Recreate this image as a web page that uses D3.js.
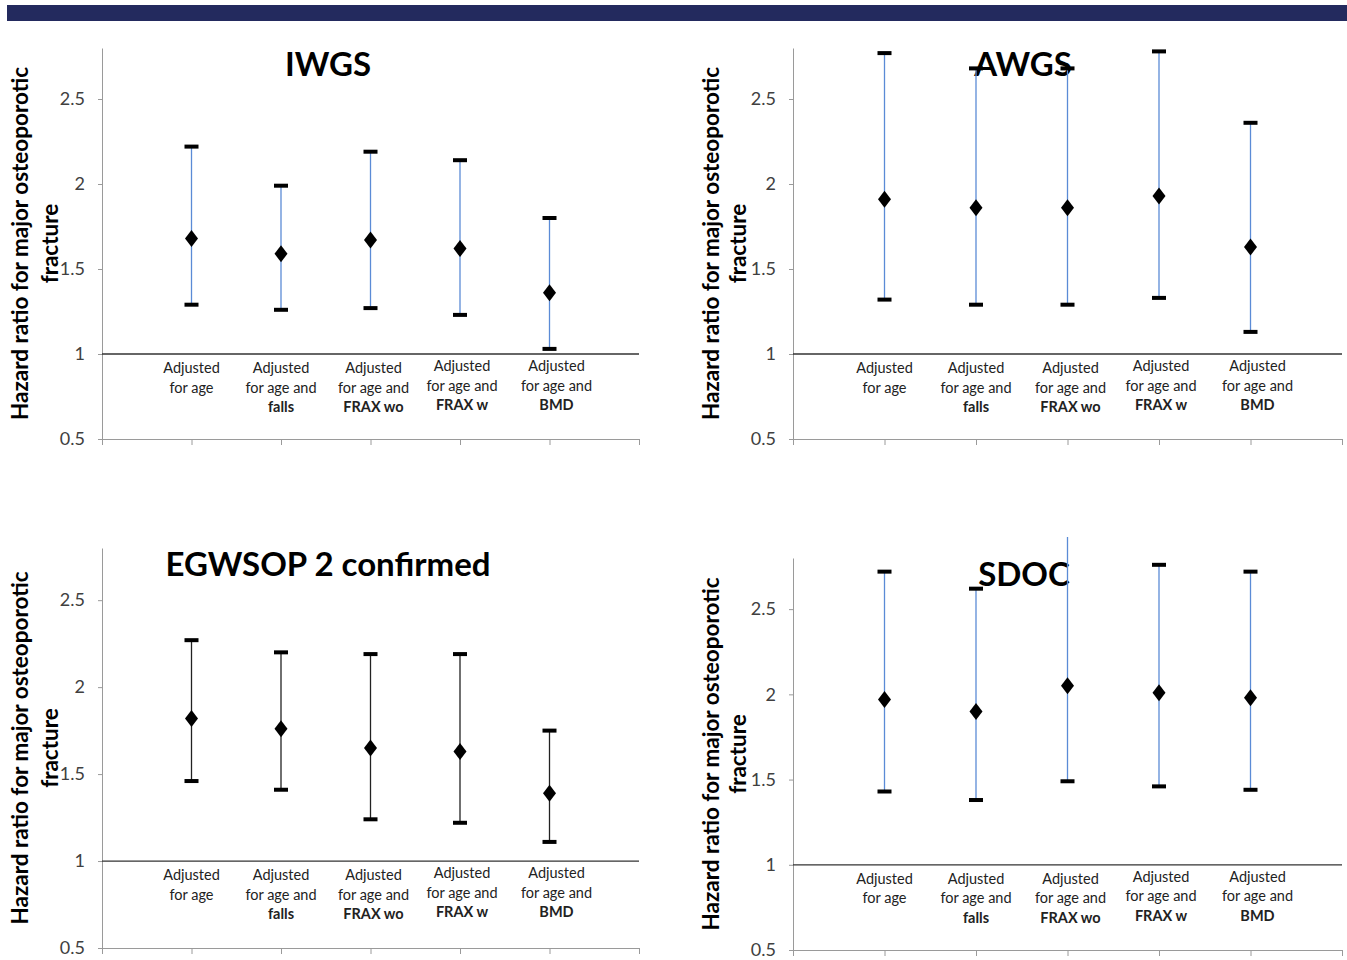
<!DOCTYPE html>
<html>
<head>
<meta charset="utf-8">
<script src="https://cdn.jsdelivr.net/npm/d3@7"></script>
<style>
  body { margin: 0; background: #fff; }
  svg { display: block; font-family: Lato, "Open Sans", sans-serif; }
</style>
</head>
<body>
<svg id="chart" width="1347" height="960"></svg>
<script>
// hazard ratios (point, lower CI, upper CI) per definition, 5 adjustment models each
const titles = ["IWGS", "AWGS", "EGWSOP 2 confirmed", "SDOC"];
const categories = [
  ["Adjusted", "for age"],
  ["Adjusted", "for age and", "falls"],
  ["Adjusted", "for age and", "FRAX wo"],
  ["Adjusted", "for age and", "FRAX w"],
  ["Adjusted", "for age and", "BMD"]
];
const yTicks = [0.5, 1, 1.5, 2, 2.5];

const iwgsHR   = [1.68, 1.59, 1.67, 1.62, 1.36];
const iwgsLow  = [1.29, 1.26, 1.27, 1.23, 1.03];
const iwgsHigh = [2.22, 1.99, 2.19, 2.14, 1.80];

const awgsHR   = [1.91, 1.86, 1.86, 1.93, 1.63];
const awgsLow  = [1.32, 1.29, 1.29, 1.33, 1.13];
const awgsHigh = [2.77, 2.68, 2.68, 2.78, 2.36];

const ewgsopHR   = [1.82, 1.76, 1.65, 1.63, 1.39];
const ewgsopLow  = [1.46, 1.41, 1.24, 1.22, 1.11];
const ewgsopHigh = [2.27, 2.20, 2.19, 2.19, 1.75];

const sdocHR   = [1.97, 1.90, 2.05, 2.01, 1.98];
const sdocLow  = [1.43, 1.38, 1.49, 1.46, 1.44];
const sdocHigh = [2.72, 2.62, 2.98, 2.76, 2.72];

const series = [
  {hr: iwgsHR,   low: iwgsLow,   high: iwgsHigh},
  {hr: awgsHR,   low: awgsLow,   high: awgsHigh},
  {hr: ewgsopHR, low: ewgsopLow, high: ewgsopHigh},
  {hr: sdocHR,   low: sdocLow,   high: sdocHigh}
];

// panel layout (pixels)
const panels = [
  {x0: 102, x1: 639,  bottom: 439, top: 48,  titleX: 328,  barColor: "#5b8bd6"},
  {x0: 793, x1: 1342, bottom: 439, top: 48,  titleX: 1023, barColor: "#5b8bd6"},
  {x0: 102, x1: 639,  bottom: 948, top: 548, titleX: 328,  barColor: "#222"},
  {x0: 793, x1: 1342, bottom: 950, top: 558, titleX: 1024, barColor: "#5b8bd6"}
];
const labelShift = [0, 0, 3, 2, 7];

const svg = d3.select("#chart");

svg.append("rect")
  .attr("x", 7).attr("y", 5)
  .attr("width", 1340).attr("height", 16)
  .attr("fill", "#232a5e");

panels.forEach((p, k) => {
  const s = series[k];
  const x = d3.scaleLinear().domain([0, 6]).range([p.x0, p.x1]);
  const y = d3.scaleLinear().domain([0.5, 2.8]).range([p.bottom, p.top]);
  const g = svg.append("g");

  // y axis
  const ya = g.append("g")
    .attr("transform", `translate(${p.x0},0)`)
    .call(d3.axisLeft(y).tickValues(yTicks).tickFormat(d3.format("")).tickSize(4).tickSizeOuter(0).tickPadding(13));
  ya.select(".domain").attr("stroke", "#9a9a9a");
  ya.selectAll(".tick line").attr("stroke", "#9a9a9a");
  ya.selectAll(".tick text")
    .attr("fill", "#404040")
    .style("font-size", "18px")
    .style("font-family", "Lato, sans-serif");

  // x axis
  const xa = g.append("g")
    .attr("transform", `translate(0,${p.bottom})`)
    .call(d3.axisBottom(x).tickValues(d3.range(0, 7)).tickFormat("").tickSize(6).tickSizeOuter(0));
  xa.select(".domain").attr("stroke", "#9a9a9a");
  xa.selectAll(".tick line").attr("stroke", "#9a9a9a");

  // reference line at HR = 1
  g.append("line")
    .attr("x1", p.x0).attr("x2", p.x1)
    .attr("y1", y(1)).attr("y2", y(1))
    .attr("stroke", "#333").attr("stroke-width", 1.3);

  // y title
  const cy = (p.top + p.bottom) / 2;
  g.append("text")
    .attr("transform", `translate(${p.x0 - 82},${cy}) rotate(-90)`)
    .attr("text-anchor", "middle")
    .attr("dy", "0.35em")
    .style("font-size", "22.5px").style("font-weight", 700)
    .text("Hazard ratio for major osteoporotic");
  g.append("text")
    .attr("transform", `translate(${p.x0 - (k % 2 ? 55 : 52)},${cy}) rotate(-90)`)
    .attr("text-anchor", "middle")
    .attr("dy", "0.35em")
    .style("font-size", "22.5px").style("font-weight", 700)
    .text("fracture");

  // title
  g.append("text")
    .attr("x", p.titleX).attr("y", p.top + 28)
    .attr("text-anchor", "middle")
    .style("font-size", "33px").style("font-weight", 700)
    .text(titles[k]);

  // category labels
  categories.forEach((lines, i) => {
    const t = g.append("text")
      .attr("text-anchor", "middle")
      .attr("fill", "#222")
      .style("font-size", "14.5px");
    lines.forEach((ln, j) => {
      t.append("tspan")
        .attr("x", x(i + 1) + labelShift[i])
        .attr("y", y(1) + 19 + j * 19.5 - (i > 2 ? 2 : 0))
        .style("font-weight", j === 2 ? 700 : 400)
        .text(ln);
    });
  });

  // error bars, clipped just above the plot
  const clipId = "clip" + k;
  g.append("clipPath").attr("id", clipId)
    .append("rect")
      .attr("x", p.x0).attr("y", p.top - 21)
      .attr("width", p.x1 - p.x0).attr("height", p.bottom - p.top + 21);
  const bars = g.append("g").attr("clip-path", `url(#${clipId})`);
  const idx = d3.range(s.hr.length);

  bars.selectAll(".bar").data(idx).join("line")
    .attr("x1", i => x(i + 1)).attr("x2", i => x(i + 1))
    .attr("y1", i => y(s.low[i])).attr("y2", i => y(s.high[i]))
    .attr("stroke", p.barColor).attr("stroke-width", 1.3);

  bars.selectAll(".cap").data(idx.flatMap(i => [[i, s.low[i]], [i, s.high[i]]])).join("rect")
    .attr("x", d => x(d[0] + 1) - 7).attr("y", d => y(d[1]) - 2)
    .attr("width", 14).attr("height", 4)
    .attr("fill", "#000");

  bars.selectAll(".pt").data(idx).join("path")
    .attr("d", i => {
      const cx = x(i + 1), c = y(s.hr[i]);
      return `M${cx},${c - 8.5}L${cx + 6.5},${c}L${cx},${c + 8.5}L${cx - 6.5},${c}Z`;
    })
    .attr("fill", "#000");
});
</script>
</body>
</html>
